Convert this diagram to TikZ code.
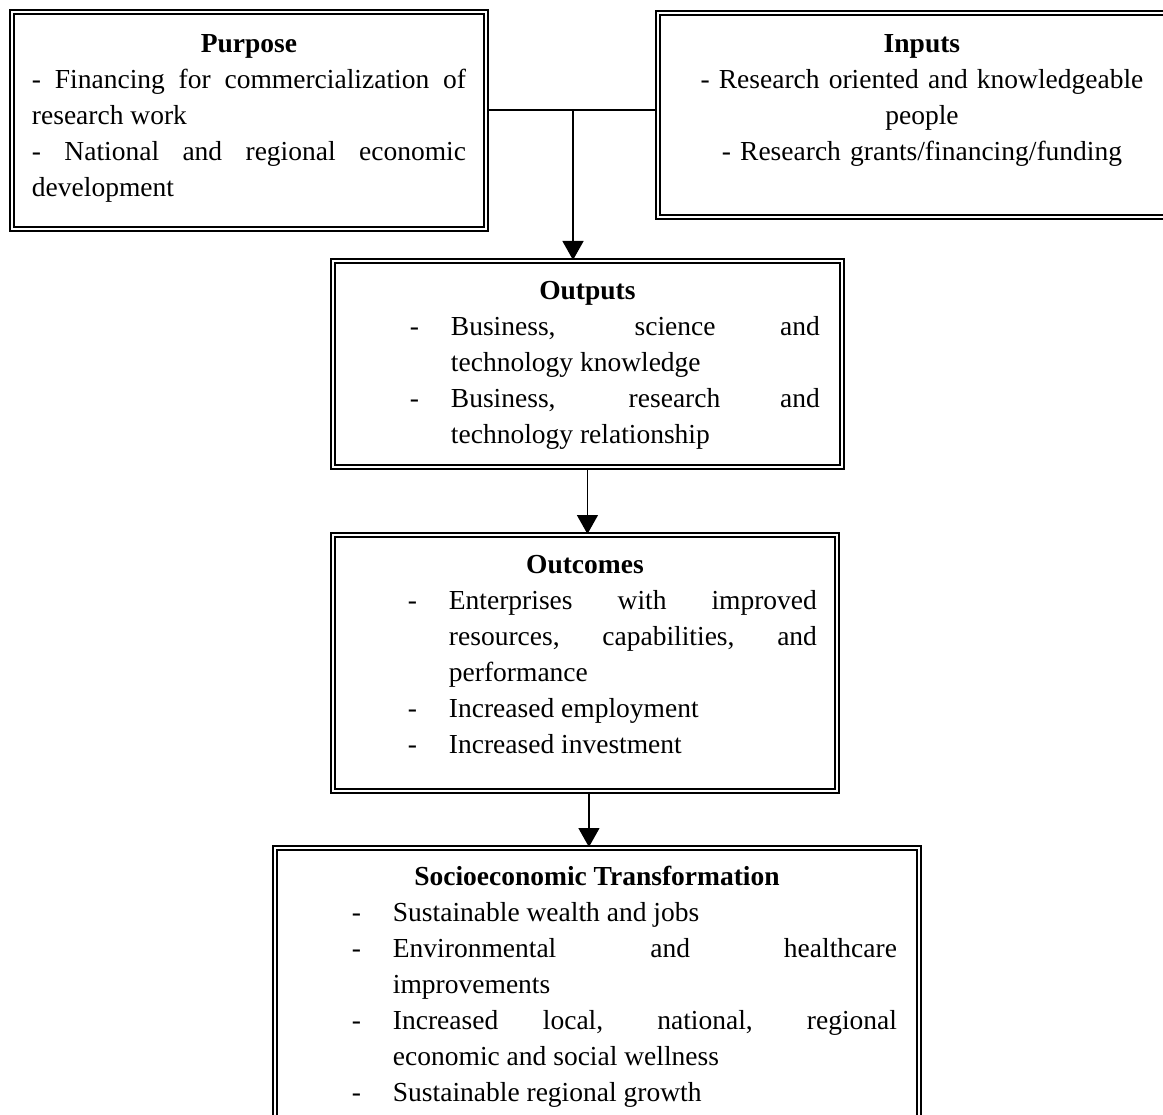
\documentclass[tikz,border=0pt]{standalone}
\usepackage{fontspec}
\setmainfont{Liberation Serif}
\usetikzlibrary{arrows.meta}
\newcommand{\dashitem}{\par\leftskip=96pt\noindent\llap{\makebox[41pt][l]{-}}}
\newcommand{\boxhead}[1]{{\centering\textbf{#1}\par}}

\begin{document}
\begin{tikzpicture}[x=1pt,y=-1pt,
  tribox/.style={draw, double, line width=1.9pt, double distance=1.9pt, anchor=north west,
    inner ysep=0pt, align=justify, font={\fontsize{27.5}{36}\selectfont}},
  link/.style={line width=1.4pt, -{Triangle[width=21pt,length=19pt]}}]
\path[use as bounding box, clip] (0,0) rectangle (1163,1115);
\fill[white] (0,0) rectangle (1163,1115);
% top row
\node[tribox, text width=434pt, inner xsep=20pt, text height=41pt, text depth=176pt] (purpose) at (11,11) {%
 \boxhead{Purpose}
 - Financing for commercialization of\linebreak research work\par
 - National and regional economic\linebreak development\par};
\node[tribox, align=center, text width=480pt, inner xsep=24pt, text height=40pt, text depth=164pt] (inputs) at (657,12) {%
 \textbf{Inputs}\\
 - Research oriented and knowledgeable\\
 people\\
 - Research grants/financing/funding};
% chain
\node[tribox, text width=465pt, inner xsep=22pt, text height=39pt, text depth=167pt] (outputs) at (332,260) {%
 \boxhead{Outputs}
 \dashitem Business, science and\linebreak technology knowledge
 \dashitem Business, research and\linebreak technology relationship\par};
\node[tribox, text width=464pt, inner xsep=20pt, text height=39pt, text depth=217pt] (outcomes) at (332,534) {%
 \boxhead{Outcomes}
 \dashitem Enterprises with improved\linebreak resources, capabilities, and\linebreak performance
 \dashitem Increased employment
 \dashitem Increased investment\par};
\node[tribox, text width=600pt, inner xsep=22pt, text height=38pt, text depth=255pt] (socio) at (274,847) {%
 \boxhead{Socioeconomic Transformation}
 \dashitem Sustainable wealth and jobs
 \dashitem Environmental and healthcare\linebreak improvements
 \dashitem Increased local, national, regional\linebreak economic and social wellness
 \dashitem Sustainable regional growth\par};
% connectors
\coordinate (join) at (573,110);
\draw[line width=1.4pt] (purpose.east |- join) -- (inputs.west |- join);
\draw[link] (join) -- (join |- outputs.north);
\draw[link] (outputs.south) -- (outputs.south |- outcomes.north);
\draw[link] ([xshift=4pt]outcomes.south) -- ([xshift=4pt]outcomes.south |- socio.north);
\end{tikzpicture}
\end{document}
